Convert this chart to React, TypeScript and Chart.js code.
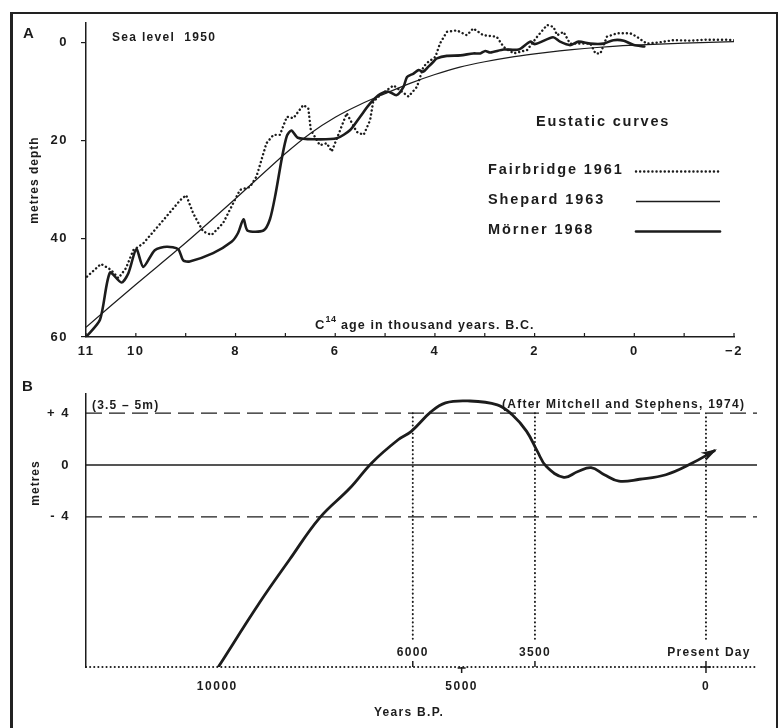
import React, { useEffect, useRef } from "react";
import { Chart, registerables } from "chart.js";
Chart.register(...registerables);

// ---------- Panel A : eustatic curves (x = thousand years B.C., y = metres depth) ----------
const fairbridgeAge = [10.98, 10.7, 10.5, 10.35, 10.2, 10.05, 9.85, 9.45, 9.11, 8.99, 8.85, 8.65, 8.48, 8.25, 7.91, 7.71, 7.58, 7.38, 7.24, 7.11, 6.97, 6.84, 6.64, 6.54, 6.49, 6.31, 6.17, 6.07, 5.9, 5.77, 5.57, 5.43, 5.3, 5.24, 5.1, 4.83, 4.7, 4.53, 4.36, 4.23, 4.13, 3.99, 3.9, 3.76, 3.56, 3.36, 3.23, 3.03, 2.76, 2.62, 2.42, 2.15, 1.95, 1.75, 1.62, 1.55, 1.42, 1.29, 1.15, 0.88, 0.78, 0.68, 0.55, 0.35, 0.08, -0.05, -0.25, -0.46, -0.79, -1.12, -1.46, -1.79, -2.03];
const fairbridgeDepth = [47.7, 45.1, 46.3, 48.0, 46.0, 42.3, 40.9, 36.2, 32.1, 31.1, 34.8, 38.5, 39.2, 36.8, 30.0, 29.4, 27.3, 20.5, 18.8, 18.8, 15.1, 15.4, 12.7, 13.4, 17.8, 20.9, 20.5, 22.2, 17.8, 14.4, 18.2, 18.8, 15.8, 12.1, 10.7, 8.7, 9.7, 11.0, 9.0, 4.9, 3.9, 2.9, 0.2, -2.2, -2.5, -1.5, -2.9, -1.5, -1.2, 0.9, 2.2, 1.5, -1.2, -3.6, -3.2, -1.5, -2.2, 0.2, 0.2, 0.2, 2.2, 2.2, -1.2, -1.9, -1.9, -1.2, 0.2, 0.0, -0.5, -0.4, -0.6, -0.6, -0.5];

const shepardAge = [11, 10, 9, 8, 7, 6.5, 6, 5.5, 5, 4.5, 4, 3.5, 3, 2.5, 2, 1.5, 1, 0.5, 0, -1, -2];
const shepardDepth = [58, 49.3, 40.8, 31.8, 22.6, 18.5, 15.2, 12.6, 10.4, 8.3, 6.5, 5.0, 3.9, 3.0, 2.3, 1.7, 1.2, 0.8, 0.5, 0.1, -0.2];

const mornerAge = [11, 10.72, 10.52, 10.29, 10.15, 9.99, 9.85, 9.62, 9.38, 9.15, 9.05, 8.92, 8.45, 8.08, 7.95, 7.84, 7.76, 7.44, 7.31, 7.2, 7.07, 6.97, 6.88, 6.75, 6.44, 5.97, 5.7, 5.5, 5.3, 5.1, 4.93, 4.77, 4.63, 4.56, 4.43, 4.33, 4.23, 4.13, 4.03, 3.96, 3.76, 3.49, 3.23, 3.09, 2.99, 2.89, 2.62, 2.32, 2.09, 1.99, 1.63, 1.49, 1.29, 1.12, 0.88, 0.62, 0.42, 0.21, 0.01, -0.2];
const mornerDepth = [60, 56.5, 46.9, 48.9, 47.0, 42.1, 45.7, 42.3, 41.6, 42.1, 44.4, 44.6, 42.9, 40.6, 38.8, 36.0, 38.3, 38.3, 36.0, 31.0, 23.5, 19.0, 17.9, 19.4, 19.7, 19.5, 17.8, 15.1, 12.4, 10.5, 10.0, 10.7, 9.0, 7.0, 6.3, 5.6, 5.9, 4.9, 3.9, 3.2, 2.7, 2.6, 2.2, 2.2, 1.7, 2.0, 1.4, 1.4, -0.2, 0.3, -1.1, -0.2, 0.5, -0.2, 0.2, 0.2, -0.5, -0.4, 0.5, 0.8];

const seriesLabelsA = ["Fairbridge 1961", "Shepard 1963", "Mörner 1968"];
const xTickValuesA = [11, 10, 9, 8, 7, 6, 5, 4, 3, 2, 1, 0, -1, -2];
const xLabelValuesA = [11, 10, 8, 6, 4, 2, 0, -2];
const yTickValuesA = [0, 20, 40, 60];

// ---------- Panel B : Mitchell and Stephens 1974 (x = years B.P., y = metres) ----------
const bYears = [9980, 9130, 8520, 7910, 7290, 6830, 6300, 6030, 5630, 5330, 4880, 4270, 3970, 3670, 3450, 3270, 2910, 2620, 2350, 2080, 1780, 1360, 820, 280, -170];
const bLevel = [-15.6, -10.6, -7.3, -4.1, -1.8, 0.2, 1.95, 2.6, 4.1, 4.8, 4.95, 4.65, 3.9, 2.6, 1.05, -0.1, -0.95, -0.5, -0.2, -0.75, -1.25, -1.1, -0.75, 0.15, 1.1];
const bLevelLines = [4, 0, -4];
const bMarkerYears = [6000, 3500, 0];
const bMarkerLabels = ["6000", "3500", "Present Day"];
const bBelowTicks = [10000, 5000, 0];
const yTickValuesB = [4, 0, -4];

const FONT = "'Liberation Sans', Arial, Helvetica, sans-serif";
const INK = "#1c1c1c";

function drawText(ctx: any, s: string, x: number, y: number, size: number, align: string = "left", spacing: number = 1) {
  ctx.save();
  ctx.font = `bold ${size}px ${FONT}`;
  ctx.letterSpacing = `${spacing}px`;
  ctx.fillStyle = INK;
  ctx.textAlign = align;
  ctx.textBaseline = "alphabetic";
  ctx.fillText(s, x, y);
  const w = ctx.measureText(s).width;
  ctx.restore();
  return w;
}

function zip(xs: number[], ys: number[]) {
  return xs.map((x, i) => ({ x, y: ys[i] }));
}

const styleA = [
  { borderWidth: 2.4, borderDash: [0.1, 4], borderCapStyle: "round", tension: 0 },
  { borderWidth: 1.2, borderDash: [], borderCapStyle: "butt", tension: 0.3 },
  { borderWidth: 2.6, borderDash: [], borderCapStyle: "round", tension: 0.25 },
];

const panelAPlugin = {
  id: "panelA",
  beforeDraw(chart: any) {
    chart.ctx.letterSpacing = "1.5px";
  },
  afterDraw(chart: any) {
    const { ctx, chartArea, scales } = chart;
    const xs = scales.x;
    ctx.save();
    ctx.strokeStyle = INK;
    ctx.lineWidth = 1.2;
    xTickValuesA.forEach((v) => {
      const px = xs.getPixelForValue(v);
      ctx.beginPath();
      ctx.moveTo(px, chartArea.bottom);
      ctx.lineTo(px, chartArea.bottom - 4);
      ctx.stroke();
    });
    ctx.restore();

    drawText(ctx, "A", 23, 38, 15, "left", 0);
    drawText(ctx, "Sea level  1950", 112, 41, 12, "left", 1.3);

    // axis title inside plot
    let cx = 315;
    cx += drawText(ctx, "C", cx, 329, 13, "left", 1);
    cx += drawText(ctx, "14", cx, 322, 9, "left", 0.5);
    drawText(ctx, " age in thousand years. B.C.", cx, 329, 12.5, "left", 1.1);

    // y title
    ctx.save();
    ctx.translate(34, 180);
    ctx.rotate(-Math.PI / 2);
    drawText(ctx, "metres depth", 0, 4, 12, "center", 1);
    ctx.restore();

    // legend
    drawText(ctx, "Eustatic curves", 536, 126, 14.5, "left", 1.8);
    const rows = [169, 199, 229];
    seriesLabelsA.forEach((lab, i) => {
      drawText(ctx, lab, 488, rows[i] + 5, 14.5, "left", 1.9);
      const st = styleA[i];
      ctx.save();
      ctx.strokeStyle = INK;
      ctx.lineWidth = i === 1 ? 1.3 : st.borderWidth;
      ctx.setLineDash(st.borderDash);
      ctx.lineCap = st.borderCapStyle;
      ctx.beginPath();
      const yy = rows[i] + 2.5;
      ctx.moveTo(636, yy);
      ctx.lineTo(720, yy);
      ctx.stroke();
      ctx.restore();
    });
  },
};

const panelBPlugin = {
  id: "panelB",
  beforeDraw(chart: any) {
    chart.ctx.letterSpacing = "1.5px";
  },
  afterDraw(chart: any) {
    const { ctx, chartArea, scales } = chart;
    const xs = scales.x;
    const bottom = chartArea.bottom;
    drawText(ctx, "B", 22, 21, 15, "left", 0);
    drawText(ctx, "(3.5 – 5m)", 92, 39, 12, "left", 1.2);
    drawText(ctx, "(After Mitchell and Stephens, 1974)", 502, 38, 12, "left", 1.25);

    ctx.save();
    ctx.strokeStyle = INK;
    // dotted time axis
    ctx.lineWidth = 2;
    ctx.lineCap = "round";
    ctx.setLineDash([0.1, 4]);
    ctx.beginPath();
    ctx.moveTo(chartArea.left, bottom);
    ctx.lineTo(chartArea.right, bottom);
    ctx.stroke();
    ctx.setLineDash([]);
    ctx.lineCap = "butt";
    ctx.lineWidth = 1.5;
    // tick marks on the dotted time axis
    bMarkerYears.forEach((v) => {
      const px = xs.getPixelForValue(v);
      ctx.beginPath();
      ctx.moveTo(px, bottom);
      ctx.lineTo(px, bottom - 6);
      ctx.stroke();
    });
    [5000, 0].forEach((v) => {
      const px = xs.getPixelForValue(v);
      ctx.beginPath();
      ctx.moveTo(px, bottom);
      ctx.lineTo(px, bottom + 6);
      ctx.stroke();
    });
    const p0 = xs.getPixelForValue(0);
    ctx.beginPath();
    ctx.moveTo(p0 - 5, bottom);
    ctx.lineTo(p0 + 5, bottom);
    ctx.stroke();
    const p5 = xs.getPixelForValue(5000);
    ctx.beginPath();
    ctx.moveTo(p5 - 4, bottom + 1);
    ctx.lineTo(p5 + 4, bottom + 1);
    ctx.stroke();
    ctx.restore();

    bMarkerYears.forEach((v, i) => {
      const px = xs.getPixelForValue(v);
      const off = bMarkerLabels[i].length > 5 ? 3 : 0;
      drawText(ctx, bMarkerLabels[i], px + off, bottom - 11, 12, "center", 1.3);
    });
    drawText(ctx, "Years B.P.", 409, 346, 12, "center", 1.3);

    ctx.save();
    ctx.translate(35, 113);
    ctx.rotate(-Math.PI / 2);
    drawText(ctx, "metres", 0, 4, 12, "center", 1);
    ctx.restore();

    // arrow head at the end of the curve
    const meta = chart.getDatasetMeta(0);
    const pts = meta.data;
    const a = pts[pts.length - 2];
    const b = pts[pts.length - 1];
    const ang = Math.atan2(b.y - a.y, b.x - a.x);
    const tipX = b.x + 3 * Math.cos(ang);
    const tipY = b.y + 3 * Math.sin(ang);
    const L = 16, W = 5;
    ctx.save();
    ctx.fillStyle = INK;
    ctx.beginPath();
    ctx.moveTo(tipX, tipY);
    ctx.lineTo(tipX - L * Math.cos(ang) - W * Math.sin(ang), tipY - L * Math.sin(ang) + W * Math.cos(ang));
    ctx.lineTo(tipX - 0.7 * L * Math.cos(ang), tipY - 0.7 * L * Math.sin(ang));
    ctx.lineTo(tipX - L * Math.cos(ang) + W * Math.sin(ang), tipY - L * Math.sin(ang) - W * Math.cos(ang));
    ctx.closePath();
    ctx.fill();
    ctx.restore();
  },
};

export default function App() {
  const refA = useRef<HTMLCanvasElement>(null);
  const refB = useRef<HTMLCanvasElement>(null);

  useEffect(() => {
    Chart.defaults.font.family = FONT;
    Chart.defaults.color = INK;

    const seriesA = [zip(fairbridgeAge, fairbridgeDepth), zip(shepardAge, shepardDepth), zip(mornerAge, mornerDepth)];
    const chartA = new Chart(refA.current as HTMLCanvasElement, {
      type: "scatter",
      data: {
        datasets: seriesA.map((d, i) => ({
          label: seriesLabelsA[i],
          data: d,
          showLine: true,
          pointRadius: 0,
          borderColor: INK,
          backgroundColor: INK,
          borderWidth: styleA[i].borderWidth,
          borderDash: styleA[i].borderDash,
          borderCapStyle: styleA[i].borderCapStyle as any,
          borderJoinStyle: "round",
          tension: styleA[i].tension,
        })),
      },
      options: {
        responsive: false,
        animation: false,
        events: [],
        layout: { padding: { left: 0, top: 23, right: 47, bottom: 0 } },
        plugins: { legend: { display: false }, tooltip: { enabled: false } },
        scales: {
          x: {
            type: "linear",
            reverse: true,
            min: -2,
            max: 11,
            afterBuildTicks: (s: any) => {
              s.ticks = xTickValuesA.map((v) => ({ value: v }));
            },
            afterFit: (s: any) => {
              s.height = 33;
            },
            grid: { display: false, drawTicks: false },
            border: { display: true, color: INK, width: 1.5 },
            ticks: {
              autoSkip: false,
              maxRotation: 0,
              padding: 7,
              font: { size: 13, weight: "bold" },
              color: INK,
              callback: (v: any) => (xLabelValuesA.includes(v) ? (v < 0 ? "−" + Math.abs(v) : String(v)) : ""),
            },
          },
          y: {
            type: "linear",
            reverse: true,
            min: -4,
            max: 60,
            afterBuildTicks: (s: any) => {
              s.ticks = yTickValuesA.map((v) => ({ value: v }));
            },
            afterFit: (s: any) => {
              s.width = 86;
            },
            grid: { display: true, drawOnChartArea: false, drawTicks: true, tickLength: 5, color: INK, lineWidth: 1.2 },
            border: { display: true, color: INK, width: 1.5 },
            ticks: { padding: 13, font: { size: 13, weight: "bold" }, color: INK },
          },
        },
      },
      plugins: [panelAPlugin as any],
    });

    const xMinB = -1044;
    const xMaxB = 12687;
    const dsB: any[] = [
      {
        data: zip(bYears, bLevel),
        showLine: true,
        pointRadius: 0,
        borderColor: INK,
        borderWidth: 2.8,
        tension: 0.4,
        borderCapStyle: "round",
      },
    ];
    bLevelLines.forEach((lv) => {
      dsB.push({
        data: [
          { x: xMaxB, y: lv },
          { x: xMinB, y: lv },
        ],
        showLine: true,
        pointRadius: 0,
        borderColor: INK,
        borderWidth: 1.3,
        borderDash: lv === 0 ? [] : [16, 7],
      });
    });
    bMarkerYears.forEach((yr) => {
      dsB.push({
        data: [
          { x: yr, y: 4 },
          { x: yr, y: -13.7 },
        ],
        showLine: true,
        pointRadius: 0,
        borderColor: INK,
        borderWidth: 2,
        borderDash: [0.1, 4],
        borderCapStyle: "round",
      });
    });

    const chartB = new Chart(refB.current as HTMLCanvasElement, {
      type: "scatter",
      data: { datasets: dsB },
      options: {
        responsive: false,
        animation: false,
        events: [],
        layout: { padding: { left: 0, top: 22, right: 24, bottom: 0 } },
        plugins: { legend: { display: false }, tooltip: { enabled: false } },
        scales: {
          x: {
            type: "linear",
            reverse: true,
            min: xMinB,
            max: xMaxB,
            afterBuildTicks: (s: any) => {
              s.ticks = bBelowTicks.map((v) => ({ value: v }));
            },
            afterFit: (s: any) => {
              s.height = 61;
            },
            grid: { display: false, drawTicks: false },
            border: { display: false },
            ticks: { autoSkip: false, maxRotation: 0, padding: 12, font: { size: 12, weight: "bold" }, color: INK, callback: (v: any) => String(v) },
          },
          y: {
            type: "linear",
            min: -15.6,
            max: 5.5,
            afterBuildTicks: (s: any) => {
              s.ticks = yTickValuesB.map((v) => ({ value: v }));
            },
            afterFit: (s: any) => {
              s.width = 86;
            },
            grid: { display: false, drawTicks: false },
            border: { display: true, color: INK, width: 1.5 },
            ticks: {
              padding: 16,
              font: { size: 13, weight: "bold" },
              color: INK,
              callback: (v: any) => (v > 0 ? "+ " + v : v < 0 ? "- " + Math.abs(v) : "0"),
            },
          },
        },
      },
      plugins: [panelBPlugin as any],
    });

    return () => {
      chartA.destroy();
      chartB.destroy();
    };
  }, []);

  return (
    <div style={{ position: "absolute", left: 0, top: 0, width: 781, height: 728, background: "#fff", overflow: "hidden" }}>
      <div
        style={{
          position: "absolute",
          left: 10,
          top: 12,
          width: 763,
          height: 740,
          borderLeft: "3px solid #222",
          borderTop: "2px solid #222",
          borderRight: "2px solid #222",
        }}
      />
      <canvas ref={refA} width={781} height={370} style={{ position: "absolute", left: 0, top: 0, width: 781, height: 370 }} />
      <canvas ref={refB} width={781} height={358} style={{ position: "absolute", left: 0, top: 370, width: 781, height: 358 }} />
    </div>
  );
}
